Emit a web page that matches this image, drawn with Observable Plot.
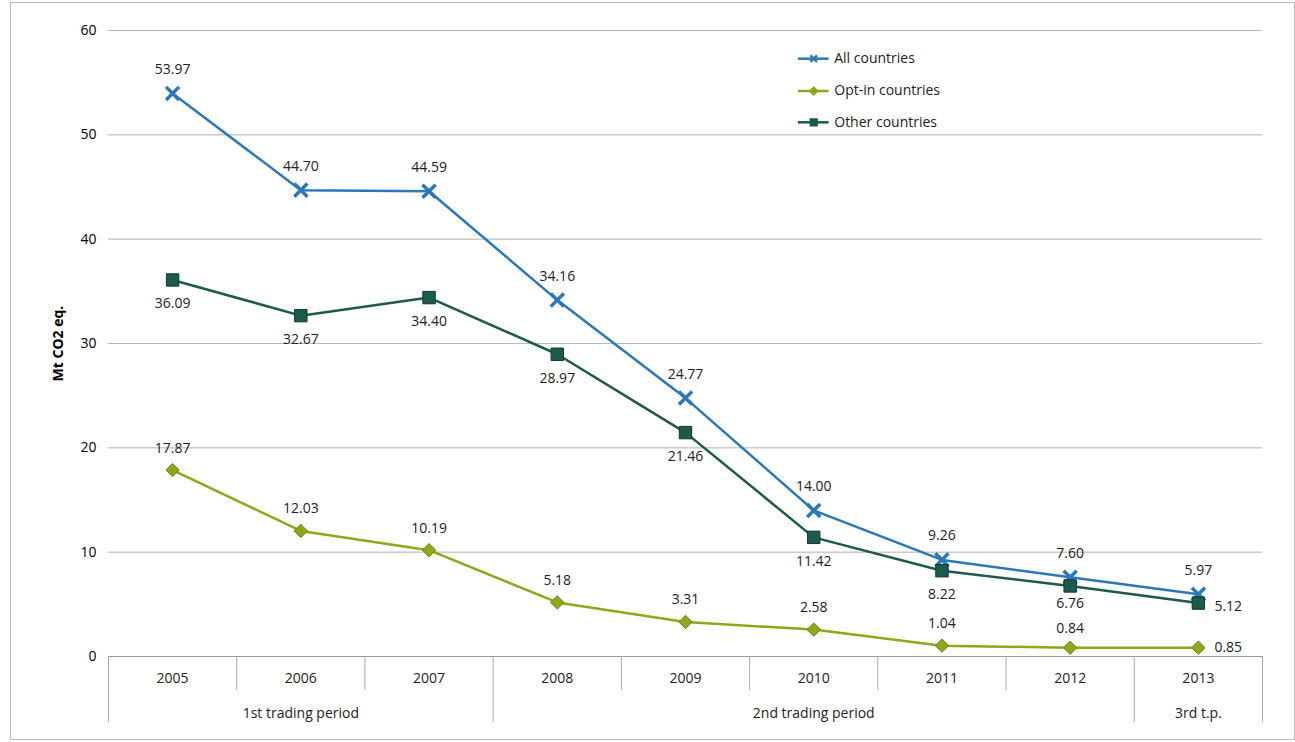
<!DOCTYPE html>
<html><head><meta charset="utf-8">
<script src="https://cdn.jsdelivr.net/npm/d3@7"></script>
<script src="https://cdn.jsdelivr.net/npm/@observablehq/plot@0.6"></script>
<style>body{margin:0;background:#fff}#chart{position:relative;width:1295px;height:742px}
#frame{position:absolute;left:10px;top:2px;width:1283px;height:736px;border:1px solid #bbb;pointer-events:none}</style>
</head><body><div id="chart"><div id="frame"></div></div>
<script>
const years = [2005,2006,2007,2008,2009,2010,2011,2012,2013];
const allC = [53.97,44.70,44.59,34.16,24.77,14.00,9.26,7.60,5.97];
const optIn = [17.87,12.03,10.19,5.18,3.31,2.58,1.04,0.84,0.85];
const other = [36.09,32.67,34.40,28.97,21.46,11.42,8.22,6.76,5.12];
const periods = [{name:"1st trading period",from:2004.5,to:2007.5},{name:"2nd trading period",from:2007.5,to:2012.5},{name:"3rd t.p.",from:2012.5,to:2013.5}];

const blue = "#2a78b8", green = "#8aaa1a", teal = "#1b5a4c";
const A = years.map((y,i)=>({x:y,v:allC[i]}));
const O = years.map((y,i)=>({x:y,v:optIn[i]}));
const T = years.map((y,i)=>({x:y,v:other[i]}));
const f = d => d.v.toFixed(2);
const font = "'Open Sans', 'Liberation Sans', Arial, sans-serif";

const tickSeps = years.slice(0,-1).map(y=>y+0.5).filter(x=>x!==2007.5 && x!==2012.5);
const groupSeps = [2004.5,2007.5,2012.5,2013.5];

const legend = [
  {name:"All countries",y:57.3,c:blue,sym:"times",r:4.5},
  {name:"Opt-in countries",y:54.2,c:green,sym:"diamond2",r:4},
  {name:"Other countries",y:51.2,c:teal,sym:"square",r:5}];

const chart = Plot.plot({
  width:1295, height:742, marginLeft:108, marginRight:33, marginTop:30, marginBottom:86,
  style:{fontFamily:font, fontSize:"14px", background:"transparent"},
  x:{domain:[2004.5,2013.5], axis:null},
  y:{domain:[0,60], ticks:[0,10,20,30,40,50,60], grid:true, label:"Mt CO2 eq.", labelAnchor:"center", labelArrow:"none", labelOffset:55, tickSize:0, tickPadding:12},
  marks:[
    Plot.gridY([10,20,30,40,50,60],{stroke:"#bbb",strokeOpacity:1}),
    Plot.ruleY([0],{stroke:"#999"}),
    Plot.ruleX(tickSeps,{y1:0,y2:-3.26,stroke:"#aaa"}),
    Plot.ruleX(groupSeps,{y1:0,y2:-6.33,stroke:"#aaa"}),
    Plot.text(years,{x:d=>d,y:-2.1,text:d=>String(d),fill:"#222"}),
    Plot.text(periods,{x:d=>(d.from+d.to)/2,y:-5.45,text:"name",fill:"#222"}),
    Plot.line(A,{x:"x",y:"v",stroke:blue,strokeWidth:2.5}),
    Plot.line(T,{x:"x",y:"v",stroke:teal,strokeWidth:2.5}),
    Plot.line(O,{x:"x",y:"v",stroke:green,strokeWidth:2.5}),
    Plot.dot(A,{x:"x",y:"v",symbol:"times",r:6,stroke:blue,strokeWidth:3.5}),
    Plot.dot(T,{x:"x",y:"v",symbol:"square",r:7,fill:teal,stroke:"#0e3a30",strokeWidth:1}),
    Plot.dot(O,{x:"x",y:"v",symbol:"diamond2",r:6,fill:green,stroke:"#6a8510",strokeWidth:1}),
    Plot.text(A,{x:"x",y:"v",text:f,dy:-24,fill:"#222"}),
    Plot.text(T.filter(d=>d.x<2012),{x:"x",y:"v",text:f,dy:24,fill:"#222"}),
    Plot.text(T.filter(d=>d.x===2012),{x:"x",y:"v",text:f,dy:18,fill:"#222"}),
    Plot.text(T.filter(d=>d.x===2013),{x:"x",y:"v",text:f,dx:16,dy:3,textAnchor:"start",fill:"#222"}),
    Plot.text(O.filter(d=>d.x<2012),{x:"x",y:"v",text:f,dy:-22,fill:"#222"}),
    Plot.text(O.filter(d=>d.x===2012),{x:"x",y:"v",text:f,dy:-19,fill:"#222"}),
    Plot.text(O.filter(d=>d.x===2013),{x:"x",y:"v",text:f,dx:16,textAnchor:"start",fill:"#222"}),
    Plot.ruleY(legend,{x1:2009.88,x2:2010.12,y:"y",stroke:"c",strokeWidth:2.5}),
    Plot.dot(legend,{x:2010.0,y:"y",symbol:"sym",r:"r",stroke:"c",fill:"c",strokeWidth:2.5}),
    Plot.text(legend,{x:2010.16,y:"y",text:"name",textAnchor:"start",fill:"#222"})
  ]
});
chart.style.position="absolute";chart.style.left="0";chart.style.top="0";
d3.select(chart).selectAll("[aria-label='y-axis label'] text").attr("font-weight","bold");
document.getElementById("chart").prepend(chart);
</script></body></html>
